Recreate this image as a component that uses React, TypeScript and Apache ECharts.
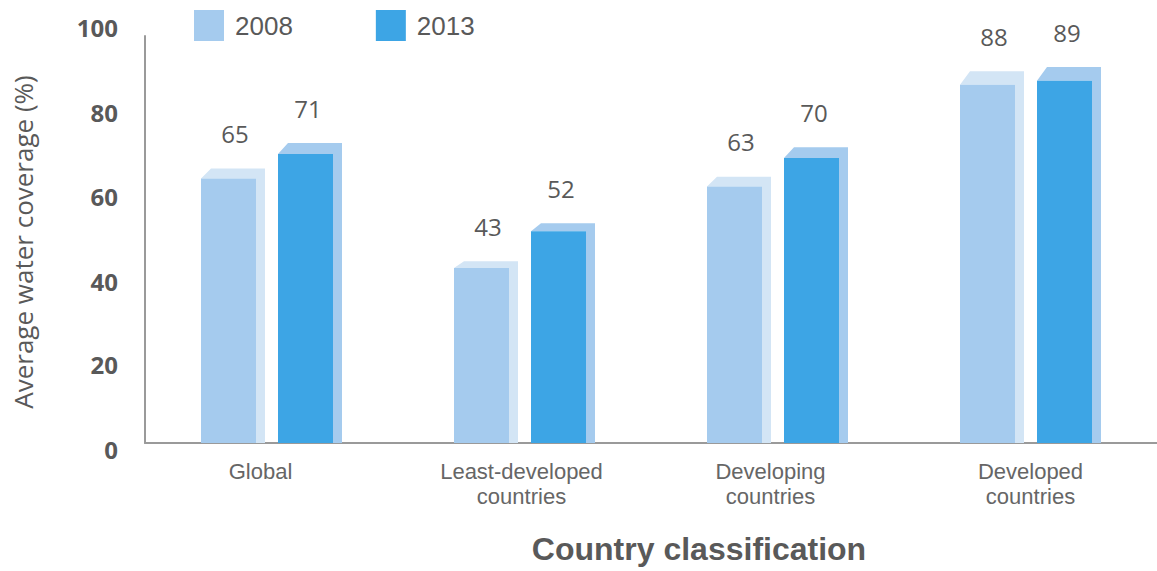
import React, { useEffect, useRef } from "react";
import * as echarts from "echarts";

const categories = ["Global", "Least-developed\ncountries", "Developing\ncountries", "Developed\ncountries"];
const seriesNames = ["2008", "2013"];
const values2008 = [65, 43, 63, 88];
const values2013 = [71, 52, 70, 89];
const yTicks = { min: 0, max: 100, interval: 20 };
const xTitle = "Country classification";
const yTitle = "Average water coverage (%)";

const frontColors = ["#A5CBEE", "#3DA5E5"];
const backColors = ["#D3E5F5", "#A5CBEE"];

function makeRender(seriesIdx: number) {
  return (params: any, api: any) => {
    const cat = api.value(0);
    const val = api.value(1);
    const top = api.coord([cat, val]);
    const base = api.coord([cat, 0]);
    const w = 55;
    const dx = 9;
    const h = base[1] - top[1];
    const dy = h * 0.038;
    const whole = w + dx;
    const center = top[0] + (seriesIdx === 0 ? -38.5 : 38.5);
    const fl = center - whole / 2;
    const t = top[1];
    const b = base[1];
    return {
      type: "group",
      children: [
        {
          type: "polygon",
          shape: {
            points: [
              [fl, t],
              [fl + dx + 1, t - dy],
              [fl + w + dx, t - dy],
              [fl + w + dx, b],
              [fl + w, b],
              [fl + w, t],
            ],
          },
          style: { fill: backColors[seriesIdx] },
        },
        {
          type: "rect",
          shape: { x: fl, y: t, width: w, height: b - t },
          style: { fill: frontColors[seriesIdx] },
        },
        {
          type: "text",
          x: fl + whole / 2 + (seriesIdx === 0 ? 2 : -2),
          y: t - dy - 35,
          style: {
            text: String(val),
            fill: "#595959",
            font: '24px "Open Sans"',
            align: "center",
            verticalAlign: "middle",
          },
        },
      ],
    };
  };
}

const yLabelStyle = (shift: number) => ({
  fontFamily: "Open Sans",
  fontWeight: "bold",
  fontSize: 24,
  color: "#595959",
  padding: shift < 0 ? [0, 0, -2 * shift, 0] : [2 * shift, 0, 0, 0],
});

const xLabelStyle = (shiftLeft: number) => ({
  fontFamily: "Liberation Sans",
  fontSize: 22,
  lineHeight: 25,
  color: "#666666",
  padding: [0, 2 * shiftLeft, 0, 0],
});

export default function App() {
  const ref = useRef<HTMLDivElement>(null);
  useEffect(() => {
    if (!ref.current) return;
    const chart = echarts.init(ref.current, undefined, { renderer: "svg" });
    const mk = (vals: number[]) => vals.map((v, i) => [i, v]);
    chart.setOption({
      animation: false,
      grid: {
        left: 145,
        right: 0,
        top: 36,
        bottom: 128,
        containLabel: false,
        outerBoundsMode: "none",
      },
      legend: {
        left: 194,
        top: 10,
        padding: 0,
        itemWidth: 30,
        itemHeight: 31,
        itemGap: 83,
        icon: "rect",
        data: seriesNames,
        textStyle: {
          fontFamily: "Liberation Sans",
          fontSize: 26,
          color: "#595959",
          padding: [0, 0, 0, 6],
        },
      },
      graphic: [
        {
          type: "text",
          x: 699,
          y: 549,
          style: {
            text: xTitle,
            fill: "#595959",
            font: 'bold 32px "Liberation Sans"',
            align: "center",
            verticalAlign: "middle",
          },
        },
        {
          type: "text",
          x: 23,
          y: 242,
          rotation: Math.PI / 2,
          style: {
            text: yTitle,
            fill: "#595959",
            font: '26px "Open Sans"',
            align: "center",
            verticalAlign: "middle",
          },
        },
      ],
      xAxis: {
        type: "category",
        data: categories,
        axisLine: { show: true, lineStyle: { color: "#9a9a9a", width: 2 } },
        axisTick: { show: false },
        axisLabel: {
          interval: 0,
          fontFamily: "Liberation Sans",
          fontSize: 22,
          lineHeight: 25,
          color: "#666666",
          margin: 16,
          formatter: (v: string) => {
            const idx = categories.indexOf(v);
            return v
              .split("\n")
              .map((line) => `{c${idx}|${line}}`)
              .join("\n");
          },
          rich: {
            c0: xLabelStyle(11),
            c1: xLabelStyle(3),
            c2: xLabelStyle(7),
            c3: xLabelStyle(0),
          },
        },
      },
      yAxis: {
        type: "value",
        min: yTicks.min,
        max: yTicks.max,
        interval: yTicks.interval,
        splitLine: { show: false },
        axisTick: { show: false },
        axisLine: { show: true, lineStyle: { color: "#9a9a9a", width: 2 } },
        axisLabel: {
          margin: 27,
          formatter: (v: number) => `{s${v}|${v}}`,
          rich: {
            s100: yLabelStyle(-9),
            s80: yLabelStyle(-5),
            s60: yLabelStyle(-2),
            s40: yLabelStyle(1),
            s20: yLabelStyle(3),
            s0: yLabelStyle(6),
          },
        },
      },
      series: [
        {
          name: seriesNames[0],
          type: "custom",
          itemStyle: { color: frontColors[0] },
          renderItem: makeRender(0),
          encode: { x: 0, y: 1 },
          data: mk(values2008),
        },
        {
          name: seriesNames[1],
          type: "custom",
          itemStyle: { color: frontColors[1] },
          renderItem: makeRender(1),
          encode: { x: 0, y: 1 },
          data: mk(values2013),
        },
      ],
    });
    return () => chart.dispose();
  }, []);
  return (
    <div
      ref={ref}
      style={{ position: "fixed", left: 0, top: 0, width: 1157, height: 571, background: "#fff" }}
    />
  );
}
